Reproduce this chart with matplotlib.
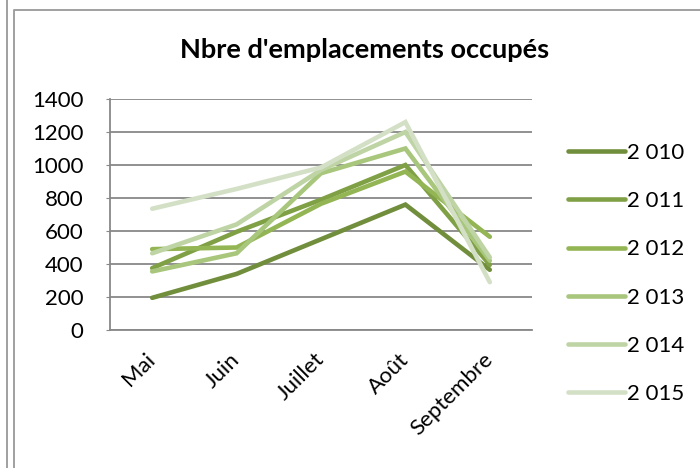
import matplotlib.pyplot as plt
from matplotlib.lines import Line2D

mois = ['Mai', 'Juin', 'Juillet', 'Août', 'Septembre']
annees = ['2 010', '2 011', '2 012', '2 013', '2 014', '2 015']

v2010 = [195, 340, 550, 760, 365]
v2011 = [375, 595, 790, 1000, 395]
v2012 = [490, 500, 765, 960, 565]
v2013 = [355, 465, 950, 1100, 420]
v2014 = [465, 640, 970, 1200, 440]
v2015 = [735, 855, 985, 1260, 290]
series = [v2010, v2011, v2012, v2013, v2014, v2015]

couleurs = ['#718E3C', '#80A046', '#93B554', '#A8C67C', '#BED4A4', '#D3E0C6']

plt.rcParams['font.family'] = ['Lato', 'DejaVu Sans']

fig = plt.figure(figsize=(7, 4.68), dpi=100)
ax = fig.add_axes([110 / 700, 1 - 330 / 468, 422 / 700, 231 / 468])

x = range(len(mois))
for vals, lab, c in zip(series, annees, couleurs):
    ax.plot(x, vals, color=c, linewidth=3.3, label=lab, solid_capstyle='round',
            solid_joinstyle='miter')

ax.set_xlim(-0.5, len(mois) - 0.5)
ax.set_ylim(0, 1400)
ax.set_yticks(range(0, 1401, 200))
ax.yaxis.grid(True, color='#888888', linewidth=1.3)
ax.set_axisbelow(True)
for s in ['top', 'right']:
    ax.spines[s].set_visible(False)
for s in ['left', 'bottom']:
    ax.spines[s].set_color('#888888')
    ax.spines[s].set_linewidth(1.3)
ax.tick_params(axis='y', length=3, color='#888888', labelsize=16, pad=16)
ax.tick_params(axis='x', length=0, labelsize=16, pad=19)
ax.set_xticks(list(x))
ax.set_xticklabels(mois, rotation=45, ha='right', va='center', rotation_mode='anchor')

fig.text(365 / 700, 1 - 50 / 468, "Nbre d'emplacements occupés", ha='center', va='center',
         fontsize=19.5, fontweight='bold')

ax.legend(loc='upper left', bbox_to_anchor=(568 / 700, 1 - 143 / 468),
          bbox_transform=fig.transFigure, frameon=False, fontsize=16,
          handlelength=2.55, handletextpad=0.12, labelspacing=1.27,
          borderpad=0, borderaxespad=0)

# cadres
fig.add_artist(Line2D([7 / 700, 7 / 700], [0, 1], transform=fig.transFigure,
                      color='#999999', linewidth=1.3))
fig.add_artist(Line2D([14 / 700, 14 / 700, 1], [0, 1 - 10 / 468, 1 - 10 / 468],
                      transform=fig.transFigure, color='#999999', linewidth=1.3))

fig.savefig('out.png', dpi=100)
